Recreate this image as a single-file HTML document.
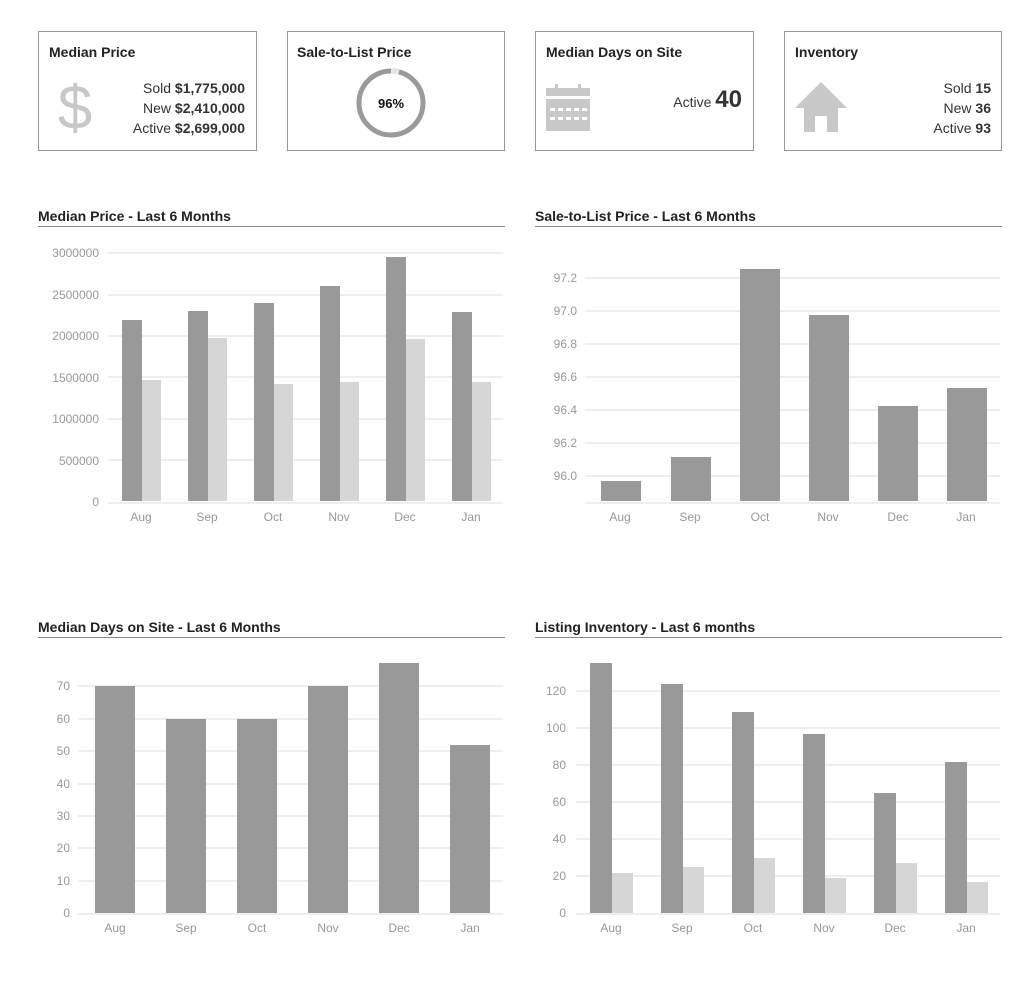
<!DOCTYPE html>
<html><head><meta charset="utf-8"><style>
body{margin:0;background:#fff;}
svg{display:block;font-family:"Liberation Sans",sans-serif;}
.t{font-weight:bold;font-size:14px;fill:#222;}
.ax{font-size:12px;fill:#999;}
.g{stroke:#eee;stroke-width:2;}
.d{fill:#999;}
.l{fill:#d6d6d6;}
.card{fill:#fff;stroke:#999;stroke-width:1;}
.v{font-size:14px;fill:#333;}
</style></head><body>
<svg width="1036" height="981" viewBox="0 0 1036 981">
<!-- cards -->
<rect class="card" x="38.5" y="31.5" width="218" height="119"/>
<rect class="card" x="287.5" y="31.5" width="217" height="119"/>
<rect class="card" x="535.5" y="31.5" width="218" height="119"/>
<rect class="card" x="784.5" y="31.5" width="217" height="119"/>
<text class="t" x="49" y="57">Median Price</text>
<text class="t" x="297" y="57">Sale-to-List Price</text>
<text class="t" x="546" y="57">Median Days on Site</text>
<text class="t" x="795" y="57">Inventory</text>
<text x="75" y="129" font-size="62" fill="#c8c8c8" text-anchor="middle">$</text>
<g class="v" text-anchor="end">
<text x="245" y="93">Sold <tspan font-weight="bold">$1,775,000</tspan></text>
<text x="245" y="113">New <tspan font-weight="bold">$2,410,000</tspan></text>
<text x="245" y="133">Active <tspan font-weight="bold">$2,699,000</tspan></text>
<text x="991" y="93">Sold <tspan font-weight="bold">15</tspan></text>
<text x="991" y="113">New <tspan font-weight="bold">36</tspan></text>
<text x="991" y="133">Active <tspan font-weight="bold">93</tspan></text>
<text x="742" y="107">Active <tspan font-weight="bold" font-size="24">40</tspan></text>
</g>
<circle cx="391" cy="103" r="32" fill="none" stroke="#9a9a9a" stroke-width="5"/>
<path d="M391 71 A32 32 0 0 1 399 72" fill="none" stroke="#e6e6e6" stroke-width="5"/>
<text x="391" y="108" text-anchor="middle" font-size="13" font-weight="bold" fill="#111">96%</text>
<!-- calendar -->
<rect x="546" y="88" width="44" height="8" fill="#c8c8c8"/>
<rect x="555" y="84" width="3" height="6" fill="#c8c8c8"/>
<rect x="578" y="84" width="3" height="6" fill="#c8c8c8"/>
<rect x="546" y="99" width="44" height="32" fill="#c8c8c8"/>
<g fill="#fff">
<rect x="550" y="108" width="5" height="3"/><rect x="558" y="108" width="5" height="3"/><rect x="566" y="108" width="5" height="3"/><rect x="574" y="108" width="5" height="3"/><rect x="582" y="108" width="5" height="3"/>
<rect x="550" y="117" width="5" height="3"/><rect x="558" y="117" width="5" height="3"/><rect x="566" y="117" width="5" height="3"/><rect x="574" y="117" width="5" height="3"/><rect x="582" y="117" width="5" height="3"/>
</g>
<!-- house -->
<path d="M795 108 L821 82 L847 108 L838 108 L838 132 L827 132 L827 116 L815 116 L815 132 L804 132 L804 108 Z" fill="#c8c8c8"/>

<!-- section titles -->
<text class="t" x="38" y="221">Median Price - Last 6 Months</text>
<text class="t" x="535" y="221">Sale-to-List Price - Last 6 Months</text>
<text class="t" x="38" y="632">Median Days on Site - Last 6 Months</text>
<text class="t" x="535" y="632">Listing Inventory - Last 6 months</text>
<g stroke="#888" stroke-width="1">
<line x1="38" y1="226.5" x2="505" y2="226.5"/><line x1="535" y1="226.5" x2="1002" y2="226.5"/>
<line x1="38" y1="637.5" x2="505" y2="637.5"/><line x1="535" y1="637.5" x2="1002" y2="637.5"/>
</g>

<!-- chart1 -->
<g class="g"><line x1="108" y1="253" x2="503" y2="253"/><line x1="108" y1="295" x2="503" y2="295"/><line x1="108" y1="336" x2="503" y2="336"/><line x1="108" y1="377" x2="503" y2="377"/><line x1="108" y1="419" x2="503" y2="419"/><line x1="108" y1="460" x2="503" y2="460"/><line x1="108" y1="503" x2="503" y2="503"/></g>
<g class="ax" text-anchor="end"><text x="99" y="257">3000000</text><text x="99" y="299">2500000</text><text x="99" y="340">2000000</text><text x="99" y="382">1500000</text><text x="99" y="423">1000000</text><text x="99" y="465">500000</text><text x="99" y="506">0</text></g>
<g class="d"><rect x="122" y="320" width="20" height="181"/><rect x="188" y="311" width="20" height="190"/><rect x="254" y="303" width="20" height="198"/><rect x="320" y="286" width="20" height="215"/><rect x="386" y="257" width="20" height="244"/><rect x="452" y="312" width="20" height="189"/></g>
<g class="l"><rect x="142" y="380" width="19" height="121"/><rect x="208" y="338" width="19" height="163"/><rect x="274" y="384" width="19" height="117"/><rect x="340" y="382" width="19" height="119"/><rect x="406" y="339" width="19" height="162"/><rect x="472" y="382" width="19" height="119"/></g>
<g class="ax" text-anchor="middle"><text x="141" y="521">Aug</text><text x="207" y="521">Sep</text><text x="273" y="521">Oct</text><text x="339" y="521">Nov</text><text x="405" y="521">Dec</text><text x="471" y="521">Jan</text></g>

<!-- chart2 -->
<g class="g"><line x1="585" y1="278" x2="1000" y2="278"/><line x1="585" y1="311" x2="1000" y2="311"/><line x1="585" y1="344" x2="1000" y2="344"/><line x1="585" y1="377" x2="1000" y2="377"/><line x1="585" y1="410" x2="1000" y2="410"/><line x1="585" y1="443" x2="1000" y2="443"/><line x1="585" y1="476" x2="1000" y2="476"/><line x1="585" y1="503" x2="1000" y2="503"/></g>
<g class="ax" text-anchor="end"><text x="577" y="282">97.2</text><text x="577" y="315">97.0</text><text x="577" y="348">96.8</text><text x="577" y="381">96.6</text><text x="577" y="414">96.4</text><text x="577" y="447">96.2</text><text x="577" y="480">96.0</text></g>
<g class="d"><rect x="601" y="481" width="40" height="20"/><rect x="671" y="457" width="40" height="44"/><rect x="740" y="269" width="40" height="232"/><rect x="809" y="315" width="40" height="186"/><rect x="878" y="406" width="40" height="95"/><rect x="947" y="388" width="40" height="113"/></g>
<g class="ax" text-anchor="middle"><text x="620" y="521">Aug</text><text x="690" y="521">Sep</text><text x="760" y="521">Oct</text><text x="828" y="521">Nov</text><text x="898" y="521">Dec</text><text x="966" y="521">Jan</text></g>

<!-- chart3 -->
<g class="g"><line x1="78" y1="686" x2="503" y2="686"/><line x1="78" y1="719" x2="503" y2="719"/><line x1="78" y1="751" x2="503" y2="751"/><line x1="78" y1="784" x2="503" y2="784"/><line x1="78" y1="816" x2="503" y2="816"/><line x1="78" y1="848" x2="503" y2="848"/><line x1="78" y1="881" x2="503" y2="881"/><line x1="78" y1="914" x2="503" y2="914"/></g>
<g class="ax" text-anchor="end"><text x="70" y="690">70</text><text x="70" y="723">60</text><text x="70" y="755">50</text><text x="70" y="788">40</text><text x="70" y="820">30</text><text x="70" y="852">20</text><text x="70" y="885">10</text><text x="70" y="917">0</text></g>
<g class="d"><rect x="95" y="686" width="40" height="227"/><rect x="166" y="719" width="40" height="194"/><rect x="237" y="719" width="40" height="194"/><rect x="308" y="686" width="40" height="227"/><rect x="379" y="663" width="40" height="250"/><rect x="450" y="745" width="40" height="168"/></g>
<g class="ax" text-anchor="middle"><text x="115" y="932">Aug</text><text x="186" y="932">Sep</text><text x="257" y="932">Oct</text><text x="328" y="932">Nov</text><text x="399" y="932">Dec</text><text x="470" y="932">Jan</text></g>

<!-- chart4 -->
<g class="g"><line x1="576" y1="691" x2="1000" y2="691"/><line x1="576" y1="728" x2="1000" y2="728"/><line x1="576" y1="765" x2="1000" y2="765"/><line x1="576" y1="802" x2="1000" y2="802"/><line x1="576" y1="839" x2="1000" y2="839"/><line x1="576" y1="876" x2="1000" y2="876"/><line x1="576" y1="914" x2="1000" y2="914"/></g>
<g class="ax" text-anchor="end"><text x="566" y="695">120</text><text x="566" y="732">100</text><text x="566" y="769">80</text><text x="566" y="806">60</text><text x="566" y="843">40</text><text x="566" y="880">20</text><text x="566" y="917">0</text></g>
<g class="d"><rect x="590" y="663" width="22" height="250"/><rect x="661" y="684" width="22" height="229"/><rect x="732" y="712" width="22" height="201"/><rect x="803" y="734" width="22" height="179"/><rect x="874" y="793" width="22" height="120"/><rect x="945" y="762" width="22" height="151"/></g>
<g class="l"><rect x="612" y="873" width="21" height="40"/><rect x="683" y="867" width="21" height="46"/><rect x="754" y="858" width="21" height="55"/><rect x="825" y="878" width="21" height="35"/><rect x="896" y="863" width="21" height="50"/><rect x="967" y="882" width="21" height="31"/></g>
<g class="ax" text-anchor="middle"><text x="611" y="932">Aug</text><text x="682" y="932">Sep</text><text x="753" y="932">Oct</text><text x="824" y="932">Nov</text><text x="895" y="932">Dec</text><text x="966" y="932">Jan</text></g>
</svg>
</body></html>
